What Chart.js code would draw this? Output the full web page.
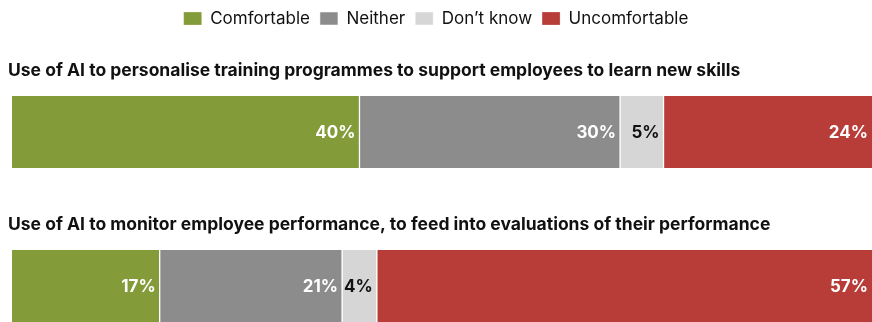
<!DOCTYPE html>
<html>
<head>
<meta charset="utf-8">
<script src="https://cdn.jsdelivr.net/npm/chart.js@4"></script>
<style>
  html, body { margin: 0; padding: 0; background: #fff; overflow: hidden; }
  #wrap { position: relative; width: 872px; height: 363px; }
</style>
</head>
<body>
<div id="wrap"><canvas id="comfortChart"></canvas></div>
<script>
// survey questions, one bar each
const questions = [
    'Use of AI to personalise training programmes to support employees to learn new skills',
    'Use of AI to monitor employee performance, to feed into evaluations of their performance'
];

// answers in % per question
const responses = ['Comfortable', 'Neither', 'Don\u2019t know', 'Uncomfortable'];
const comfortable = [40, 17];
const neither = [30, 21];
const dontKnow = [5, 4];
const uncomfortable = [24, 57];

const colours = ['#839b38', '#8c8c8c', '#d6d6d6', '#b83c38'];
const valueColours = ['#ffffff', '#ffffff', '#111111', '#ffffff'];

const series = [comfortable, neither, dontKnow, uncomfortable];

Chart.defaults.font.family = 'Inter, "Liberation Sans", sans-serif';
Chart.defaults.color = '#111';

//thin white gap between the segments
var segmentBorder = i => {
    if (i === 0) return {left: 0, right: 1, top: 0, bottom: 0};
    if (i === series.length - 1) return {left: 1, right: 0, top: 0, bottom: 0};
    return {left: 1, right: 1, top: 0, bottom: 0};
};

const datasets = series.map((values, i) => ({
    label: responses[i],
    data: values,
    backgroundColor: colours[i],
    borderColor: '#ffffff',
    borderWidth: segmentBorder(i),
    borderSkipped: false,
    barThickness: 72
}));

// question text above every bar
const questionTitles = {
    id: 'questionTitles',
    afterDraw(chart) {
        const ctx = chart.ctx;
        const meta = chart.getDatasetMeta(0);
        ctx.save();
        ctx.font = '700 17.5px Inter, "Liberation Sans", sans-serif';
        ctx.fillStyle = '#111';
        ctx.textAlign = 'left';
        ctx.textBaseline = 'middle';
        meta.data.forEach((bar, i) => {
            const top = bar.y - bar.height / 2;
            ctx.fillText(questions[i], 8, top - 25);
        });
        ctx.restore();
    }
};

// percentage at the right end of each segment
const segmentValues = {
    id: 'segmentValues',
    afterDatasetsDraw(chart) {
        const ctx = chart.ctx;
        ctx.save();
        ctx.font = '700 17px Inter, "Liberation Sans", sans-serif';
        ctx.textAlign = 'right';
        ctx.textBaseline = 'middle';
        chart.data.datasets.forEach((ds, d) => {
            ctx.fillStyle = valueColours[d];
            chart.getDatasetMeta(d).data.forEach((bar, i) => {
                ctx.fillText(ds.data[i] + '%', bar.x - 4, bar.y + 1);
            });
        });
        ctx.restore();
    }
};

const comfortChart = new Chart(document.getElementById('comfortChart'), {
    type: 'bar',
    data: {
        labels: questions,
        datasets: datasets
    },
    options: {
        indexAxis: 'y',
        responsive: true,
        maintainAspectRatio: false,
        animation: false,
        layout: { padding: 0 },
        scales: {
            x: {
                stacked: true,
                min: 0,
                max: 99,
                position: 'top',
                ticks: { display: false },
                grid: { display: false },
                border: { display: false },
                afterFit: scale => { scale.height = 18; }
            },
            y: {
                stacked: true,
                ticks: { display: false },
                grid: { display: false },
                border: { display: false },
                afterFit: scale => { scale.width = 12; }
            }
        },
        plugins: {
            legend: {
                position: 'top',
                labels: {
                    boxWidth: 18,
                    boxHeight: 13,
                    padding: 10,
                    color: '#111',
                    font: { size: 17 }
                }
            },
            tooltip: { enabled: false }
        }
    },
    plugins: [questionTitles, segmentValues]
});
</script>
</body>
</html>
